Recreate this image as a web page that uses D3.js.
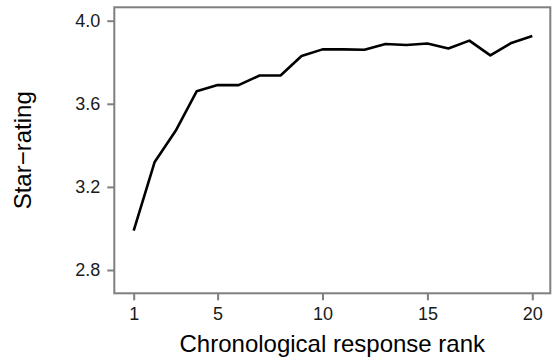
<!DOCTYPE html>
<html>
<head>
<meta charset="utf-8">
<script src="https://cdn.jsdelivr.net/npm/d3@7"></script>
<style>
  html, body { margin: 0; padding: 0; background: #fff; }
  svg { display: block; }
</style>
</head>
<body>
<svg id="chart" width="552" height="360"></svg>
<script>
const ranks = [1,2,3,4,5,6,7,8,9,10,11,12,13,14,15,16,17,18,19,20];
const ratings = [2.99,3.32,3.47,3.66,3.69,3.69,3.736,3.736,3.83,3.862,3.862,3.86,3.888,3.883,3.89,3.866,3.904,3.833,3.893,3.926];
const xTicks = [1,5,10,15,20];
const yTicks = [2.8,3.2,3.6,4.0];
const xTitle = "Chronological response rank";
const yTitle = "Star\u2212rating";

const svg = d3.select("#chart");
const panel = {left: 114.3, right: 550.3, top: 7.3, bottom: 293.3};

const x = d3.scaleLinear().domain([1, 20]).range([133.7, 532.3]);
const y = d3.scaleLinear().domain([2.8, 4.0]).range([270, 20.7]);

const font = "'Liberation Sans', Arial, Helvetica, sans-serif";
const grey = "#7f7f7f";

// panel border
svg.append("rect")
  .attr("x", panel.left).attr("y", panel.top)
  .attr("width", panel.right - panel.left)
  .attr("height", panel.bottom - panel.top)
  .attr("fill", "none").attr("stroke", grey).attr("stroke-width", 2);

// x axis
const xAxis = d3.axisBottom(x).tickValues(xTicks).tickFormat(d3.format("d"))
  .tickSize(7).tickPadding(7);
const gx = svg.append("g").attr("transform", `translate(0,${panel.bottom})`).call(xAxis);
gx.select(".domain").remove();
gx.selectAll(".tick line").attr("stroke", grey).attr("stroke-width", 2);
gx.selectAll(".tick text").attr("font-family", font).attr("font-size", 18).attr("fill", "#1a1a1a");

// y axis
const yAxis = d3.axisLeft(y).tickValues(yTicks).tickFormat(d3.format(".1f"))
  .tickSize(7).tickPadding(7);
const gy = svg.append("g").attr("transform", `translate(${panel.left},0)`).call(yAxis);
gy.select(".domain").remove();
gy.selectAll(".tick line").attr("stroke", grey).attr("stroke-width", 2);
gy.selectAll(".tick text").attr("font-family", font).attr("font-size", 18).attr("fill", "#1a1a1a");

// line
const line = d3.line().x((d, i) => x(ranks[i])).y(d => y(d));
svg.append("path")
  .datum(ratings)
  .attr("d", line)
  .attr("fill", "none")
  .attr("stroke", "#000")
  .attr("stroke-width", 2.6)
  .attr("stroke-linejoin", "round");

// titles
svg.append("text")
  .attr("x", (panel.left + panel.right) / 2).attr("y", 352)
  .attr("text-anchor", "middle")
  .attr("font-family", font).attr("font-size", 24).attr("fill", "#000")
  .text(xTitle);

svg.append("text")
  .attr("transform", `translate(31,${(panel.top + panel.bottom) / 2}) rotate(-90)`)
  .attr("text-anchor", "middle")
  .attr("font-family", font).attr("font-size", 24).attr("fill", "#000")
  .text(yTitle);
</script>
</body>
</html>
